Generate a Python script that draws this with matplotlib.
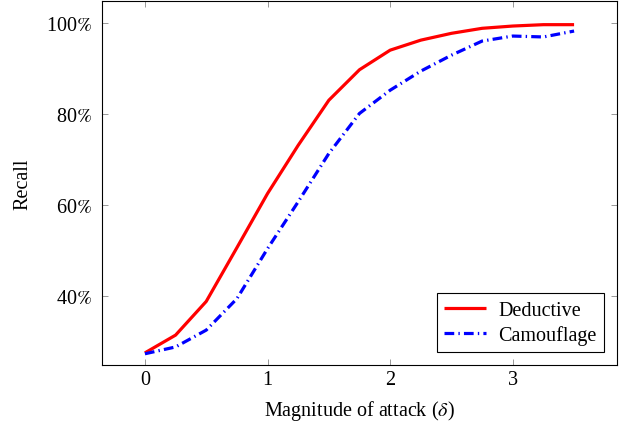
import matplotlib
matplotlib.use("Agg")
import matplotlib.pyplot as plt
from matplotlib.ticker import FuncFormatter

plt.rcParams['font.family'] = ['Liberation Serif', 'DejaVu Serif']
plt.rcParams['mathtext.fontset'] = 'stix'
plt.rcParams['lines.scale_dashes'] = False

x = [0, 0.25, 0.5, 0.75, 1.0, 1.25, 1.5, 1.75, 2.0, 2.25, 2.5, 2.75, 3.0, 3.25, 3.5]
deductive = [27.5, 31.4, 38.8, 50.6, 62.5, 73.1, 83.0, 89.7, 94.0, 96.2, 97.7, 98.8, 99.3, 99.6, 99.6]
camouflage = [27.3, 28.8, 32.5, 39.4, 50.4, 60.7, 71.3, 80.1, 85.2, 89.4, 92.9, 96.0, 97.1, 96.9, 98.2]
xticks = [0, 1, 2, 3]
yticks = [40, 60, 80, 100]

FS = 14.5

fig = plt.figure(figsize=(6.32, 4.27), dpi=100)
ax = fig.add_axes([102/632, (427-365.7)/427, (617-102)/632, (365.7-2)/427])

ax.plot(x, deductive, color=(1, 0, 0), lw=2.3, label='Deductive', solid_capstyle='butt')
ax.plot(x, camouflage, color=(0, 0, 1), lw=2.3, dashes=(7, 3, 1, 3), label='Camouflage')

ax.set_xlim(-0.35, 3.85)
ax.set_ylim(24.9, 104.8)
ax.set_xticks(xticks)
ax.set_yticks(yticks)
ax.yaxis.set_major_formatter(FuncFormatter(lambda v, p: f"{int(v)}$\\%$"))
ax.tick_params(direction='in', top=True, right=True, length=4.5, width=0.6,
               color='#888888', labelsize=FS)
ax.tick_params(axis='y', pad=7)
ax.tick_params(axis='x', pad=4)
for s in ax.spines.values():
    s.set_linewidth(0.8)
ax.set_xlabel('Magnitude of attack ($\\delta$)', fontsize=FS, labelpad=6)
ax.set_ylabel('Recall', fontsize=FS, labelpad=10)

leg = ax.legend(loc='lower right', fontsize=FS, fancybox=False, framealpha=1,
                edgecolor='black', handlelength=2.1, borderaxespad=0.65,
                borderpad=0.35, labelspacing=0.25, handletextpad=0.6)
leg.get_frame().set_linewidth(0.8)

fig.savefig('out.png', dpi=100)
